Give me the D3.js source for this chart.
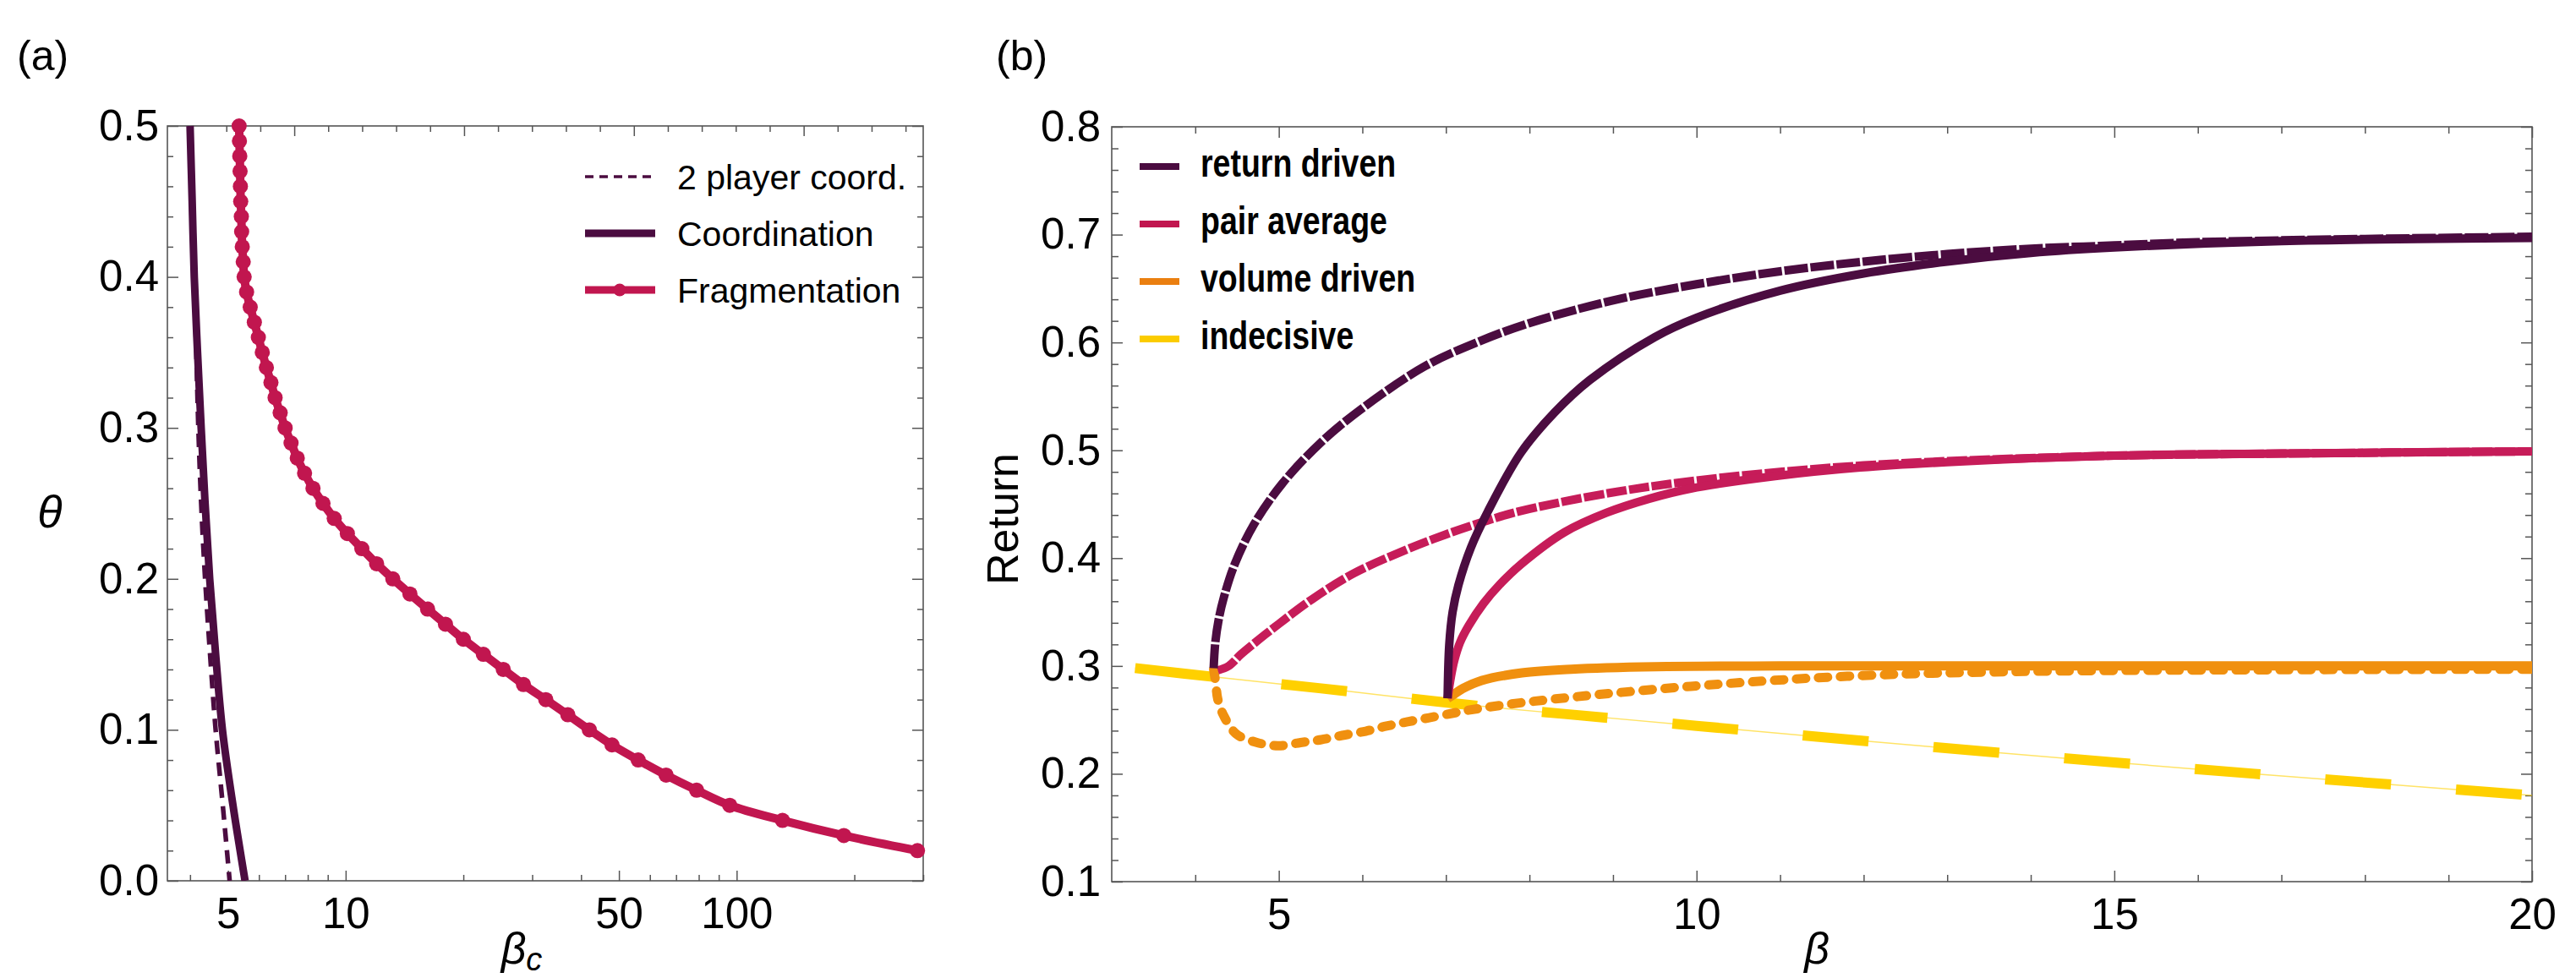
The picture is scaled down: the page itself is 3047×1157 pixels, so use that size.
<!DOCTYPE html>
<html>
<head>
<meta charset="utf-8">
<script src="https://cdn.jsdelivr.net/npm/d3@7"></script>
<style>
  body { margin: 0; background: #fff; }
  svg { display: block; }
</style>
</head>
<body>
<script>
// ---------- panel (a): critical beta vs theta ----------
const thetaLevels   = [0.5, 0.45, 0.4, 0.35, 0.3, 0.25, 0.2, 0.15, 0.1, 0.05, 0.0];
const coordBeta     = [4.0, 4.05, 4.1, 4.18, 4.27, 4.37, 4.49, 4.65, 4.84, 5.15, 5.53];
const twoPlayerBeta = [4.0, 4.05, 4.1, 4.15, 4.2, 4.27, 4.37, 4.5, 4.65, 4.85, 5.05];

const fragTheta = [0.50, 0.49, 0.48, 0.47, 0.46, 0.45, 0.44, 0.43, 0.42, 0.41,
                   0.40, 0.39, 0.38, 0.37, 0.36, 0.35, 0.34, 0.33, 0.32, 0.31,
                   0.30, 0.29, 0.28, 0.27, 0.26, 0.25, 0.24, 0.23, 0.22, 0.21,
                   0.20, 0.19, 0.18, 0.17, 0.16, 0.15, 0.14, 0.13, 0.12, 0.11,
                   0.10, 0.09, 0.08, 0.07, 0.06, 0.05, 0.04, 0.03, 0.02];
const fragBeta  = [5.34, 5.35, 5.36, 5.37, 5.38, 5.39, 5.41, 5.42, 5.44, 5.47,
                   5.50, 5.58, 5.70, 5.84, 5.98, 6.12, 6.27, 6.44, 6.60, 6.80,
                   7.00, 7.25, 7.52, 7.85, 8.25, 8.75, 9.35, 10.1, 11.0, 12.0,
                   13.2, 14.6, 16.2, 18.0, 20.0, 22.5, 25.3, 28.5, 32.5, 37.0,
                   42.0, 48.0, 56.0, 66.0, 79.0, 96.0, 131, 188, 290];

const aLegend = ["2 player coord.", "Coordination", "Fragmentation"];
const aTicksX = [5, 10, 50, 100];
const aMinorX = [4, 6, 7, 8, 9, 20, 30, 40, 60, 70, 80, 90, 200, 300];
const aTicksY = [0, 0.1, 0.2, 0.3, 0.4, 0.5];
const aTopMajor = [2, 3, 4, 5];   // top frame ticks are in ln(beta)

// ---------- panel (b): return vs beta ----------
const returnDashBeta = [4.22, 4.24, 4.28, 4.34, 4.47, 4.70, 5.04, 5.5, 6.0, 6.75, 7.4, 8.0, 9.0, 10.0, 11.0, 12.0, 13.0, 14.0, 15.0, 16.0, 18.0, 20.0];
const returnDashR    = [0.298, 0.322, 0.343, 0.363, 0.394, 0.431, 0.469, 0.507, 0.539, 0.578, 0.601, 0.618, 0.639, 0.654, 0.666, 0.675, 0.682, 0.687, 0.690, 0.693, 0.696, 0.698];
const returnSolidBeta = [7.02, 7.04, 7.08, 7.15, 7.3, 7.5, 7.9, 8.3, 8.72, 9.5, 10.0, 11.0, 12.0, 13.0, 14.0, 15.0, 17.0, 20.0];
const returnSolidR    = [0.270, 0.320, 0.350, 0.375, 0.410, 0.443, 0.498, 0.535, 0.565, 0.605, 0.623, 0.648, 0.664, 0.675, 0.683, 0.688, 0.694, 0.697];

const pairDashBeta = [4.27, 4.40, 4.55, 4.77, 5.0, 5.4, 5.9, 6.5, 7.0, 7.5, 7.91, 9.0, 10.0, 11.0, 12.0, 13.0, 15.0, 17.0, 20.0];
const pairDashR    = [0.296, 0.300, 0.311, 0.325, 0.339, 0.362, 0.386, 0.407, 0.422, 0.435, 0.444, 0.461, 0.472, 0.480, 0.486, 0.490, 0.495, 0.497, 0.499];
const pairSolidBeta = [7.02, 7.06, 7.1, 7.17, 7.27, 7.45, 7.65, 7.91, 8.42, 8.92, 9.43, 9.93, 10.94, 11.96, 13.0, 15.0, 17.0, 20.0];
const pairSolidR    = [0.270, 0.290, 0.305, 0.322, 0.337, 0.358, 0.376, 0.395, 0.424, 0.442, 0.455, 0.4645, 0.476, 0.484, 0.489, 0.495, 0.497, 0.499];

const volumeDashBeta = [4.22, 4.245, 4.27, 4.34, 4.49, 4.74, 4.99, 5.26, 5.51, 5.76, 6.04, 6.29, 6.54, 6.80, 7.07, 7.27, 7.91, 9.93, 11.96, 14.0, 17.0, 20.0];
const volumeDashR    = [0.297, 0.284, 0.269, 0.254, 0.237, 0.229, 0.226, 0.229, 0.2317, 0.2356, 0.2395, 0.2443, 0.2482, 0.252, 0.256, 0.259, 0.266, 0.2811, 0.291, 0.295, 0.2965, 0.297];
const volumeSolidBeta = [7.02, 7.1, 7.2, 7.43, 7.91, 8.5, 9.5, 11.0, 13.0, 20.0];
const volumeSolidR    = [0.270, 0.274, 0.279, 0.2866, 0.2936, 0.297, 0.2993, 0.300, 0.300, 0.300];

const indecisiveBeta = [3.28, 4.27, 5.04, 5.83, 6.61, 7.40, 8.42, 10.0, 12.0, 15.0, 17.5, 20.0];
const indecisiveR    = [0.298, 0.2895, 0.283, 0.2765, 0.2695, 0.2628, 0.2555, 0.2445, 0.2305, 0.2105, 0.195, 0.180];

const bLegend = ["return driven", "pair average", "volume driven", "indecisive"];
const bTicksX = [5, 10, 15, 20];
const bTicksY = [0.1, 0.2, 0.3, 0.4, 0.5, 0.6, 0.7, 0.8];

// ---------- look ----------
const W = 3047, H = 1157;
const boxA = { left: 198, right: 1092, top: 149, bottom: 1042 };
const boxB = { left: 1315, right: 2995, top: 150, bottom: 1043 };
const frameColor = "#555";
const font = "'Liberation Sans', Arial, Helvetica, sans-serif";
const cPurple = "#4b0c40", cCrimson = "#c1164f", cPink = "#c61c59",
      cOrange = "#f0900f", cYellow = "#ffd000";

const svg = d3.select("body").append("svg")
    .attr("width", W)
    .attr("height", H);

const xA = d3.scaleLog().domain([3.5, 300]).range([boxA.left, boxA.right]);
const xAln = d3.scaleLinear().domain([Math.log(3.5), Math.log(300)]).range([boxA.left, boxA.right]);
const yA = d3.scaleLinear().domain([0, 0.5]).range([boxA.bottom, boxA.top]);
const xB = d3.scaleLinear().domain([3, 20]).range([boxB.left, boxB.right]);
const yB = d3.scaleLinear().domain([0.1, 0.8]).range([boxB.bottom, boxB.top]);

function frameAxis(axis, tx, ty, withText) {
    const g = svg.append("g")
        .attr("transform", "translate(" + tx + "," + ty + ")")
        .call(axis);
    g.select(".domain").remove();
    g.selectAll(".tick line").attr("stroke", frameColor).attr("stroke-width", 1.5);
    if (withText) {
        g.attr("font-family", font).attr("font-size", 51);
        g.selectAll("text").attr("fill", "#000");
    } else {
        g.selectAll("text").remove();
    }
    return g;
}

function minorRange(lo, hi, step, skip) {
    return d3.range(lo, hi + step / 2, step)
        .map(v => +v.toFixed(4))
        .filter(v => !skip.some(s => Math.abs(s - v) < 1e-6));
}

// ---------- panel (a) axes ----------
frameAxis(d3.axisBottom(xA).tickValues(aTicksX).tickFormat(d3.format("d"))
    .tickSizeInner(-12).tickSizeOuter(0).tickPadding(20), 0, boxA.bottom, true);
frameAxis(d3.axisBottom(xA).tickValues(aMinorX).tickFormat("")
    .tickSizeInner(-7).tickSizeOuter(0), 0, boxA.bottom, false);
frameAxis(d3.axisTop(xAln).tickValues(aTopMajor).tickSizeInner(-12).tickSizeOuter(0),
    0, boxA.top, false);
frameAxis(d3.axisTop(xAln).tickValues(minorRange(1.4, 5.6, 0.2, aTopMajor))
    .tickSizeInner(-7).tickSizeOuter(0), 0, boxA.top, false);
frameAxis(d3.axisLeft(yA).tickValues(aTicksY).tickFormat(d3.format(".1f"))
    .tickSizeInner(-13).tickSizeOuter(0).tickPadding(10), boxA.left, 0, true);
frameAxis(d3.axisLeft(yA).tickValues(minorRange(0.02, 0.48, 0.02, aTicksY))
    .tickSizeInner(-7).tickSizeOuter(0), boxA.left, 0, false);
frameAxis(d3.axisRight(yA).tickValues(aTicksY).tickSizeInner(-13).tickSizeOuter(0),
    boxA.right, 0, false);
frameAxis(d3.axisRight(yA).tickValues(minorRange(0.02, 0.48, 0.02, aTicksY))
    .tickSizeInner(-7).tickSizeOuter(0), boxA.right, 0, false);

svg.append("rect")
    .attr("x", boxA.left).attr("y", boxA.top)
    .attr("width", boxA.right - boxA.left).attr("height", boxA.bottom - boxA.top)
    .attr("fill", "none").attr("stroke", frameColor).attr("stroke-width", 1.6);

// ---------- panel (b) axes ----------
frameAxis(d3.axisBottom(xB).tickValues(bTicksX).tickFormat(d3.format("d"))
    .tickSizeInner(-13).tickSizeOuter(0).tickPadding(20), 0, boxB.bottom, true);
frameAxis(d3.axisBottom(xB).tickValues(minorRange(4, 19, 1, bTicksX)).tickFormat("")
    .tickSizeInner(-8).tickSizeOuter(0), 0, boxB.bottom, false);
frameAxis(d3.axisTop(xB).tickValues(bTicksX).tickSizeInner(-13).tickSizeOuter(0),
    0, boxB.top, false);
frameAxis(d3.axisTop(xB).tickValues(minorRange(4, 19, 1, bTicksX))
    .tickSizeInner(-8).tickSizeOuter(0), 0, boxB.top, false);
frameAxis(d3.axisLeft(yB).tickValues(bTicksY).tickFormat(d3.format(".1f"))
    .tickSizeInner(-13).tickSizeOuter(0).tickPadding(13), boxB.left, 0, true);
frameAxis(d3.axisLeft(yB).tickValues(minorRange(0.12, 0.78, 0.02, bTicksY))
    .tickSizeInner(-8).tickSizeOuter(0), boxB.left, 0, false);
frameAxis(d3.axisRight(yB).tickValues(bTicksY).tickSizeInner(-13).tickSizeOuter(0),
    boxB.right, 0, false);
frameAxis(d3.axisRight(yB).tickValues(minorRange(0.12, 0.78, 0.02, bTicksY))
    .tickSizeInner(-8).tickSizeOuter(0), boxB.right, 0, false);

svg.append("rect")
    .attr("x", boxB.left).attr("y", boxB.top)
    .attr("width", boxB.right - boxB.left).attr("height", boxB.bottom - boxB.top)
    .attr("fill", "none").attr("stroke", frameColor).attr("stroke-width", 1.6);

// ---------- clip paths ----------
const defs = svg.append("defs");
defs.append("clipPath").attr("id", "clipA").append("rect")
    .attr("x", boxA.left).attr("y", boxA.top - 20)
    .attr("width", boxA.right - boxA.left + 6).attr("height", boxA.bottom - boxA.top + 20);
defs.append("clipPath").attr("id", "clipB").append("rect")
    .attr("x", boxB.left).attr("y", boxB.top)
    .attr("width", boxB.right - boxB.left).attr("height", boxB.bottom - boxB.top);

// ---------- panel (a) curves ----------
const lineA = d3.line()
    .x(d => xA(d[0]))
    .y(d => yA(d[1]))
    .curve(d3.curveCatmullRom.alpha(0.5));

const plotA = svg.append("g").attr("clip-path", "url(#clipA)");

plotA.append("path")
    .datum(d3.zip(twoPlayerBeta, thetaLevels))
    .attr("d", lineA)
    .attr("fill", "none").attr("stroke", cPurple)
    .attr("stroke-width", 5.5).attr("stroke-dasharray", "16,10");

plotA.append("path")
    .datum(d3.zip(coordBeta, thetaLevels))
    .attr("d", lineA)
    .attr("fill", "none").attr("stroke", cPurple)
    .attr("stroke-width", 9);

const fragPts = d3.zip(fragBeta, fragTheta);
plotA.append("path")
    .datum(fragPts)
    .attr("d", lineA)
    .attr("fill", "none").attr("stroke", cCrimson)
    .attr("stroke-width", 10).attr("stroke-linecap", "square");

svg.append("g").selectAll("circle")
    .data(fragPts)
    .enter()
    .append("circle")
    .attr("cx", d => xA(d[0]))
    .attr("cy", d => yA(d[1]))
    .attr("r", 9)
    .attr("fill", cCrimson);

// legend (a)
const legA = svg.append("g").attr("font-family", font).attr("font-size", 41);
aLegend.forEach(function(name, i) {
    const y = 209 + i * 67;
    const l = legA.append("line")
        .attr("x1", 692).attr("x2", 775).attr("y1", y).attr("y2", y)
        .attr("stroke", i === 2 ? cCrimson : cPurple);
    if (i === 0) l.attr("stroke-width", 3.5).attr("stroke-dasharray", "10,7");
    else l.attr("stroke-width", 9);
    if (i === 2) legA.append("circle").attr("cx", 733).attr("cy", y).attr("r", 7.5).attr("fill", cCrimson);
    legA.append("text")
        .attr("x", 801).attr("y", y).attr("dy", "0.36em")
        .text(name);
});

// ---------- panel (b) curves ----------
const lineB = d3.line()
    .x(d => xB(d[0]))
    .y(d => yB(d[1]))
    .curve(d3.curveCatmullRom.alpha(0.5));

const plotB = svg.append("g").attr("clip-path", "url(#clipB)");

function curveB(bs, rs, color, width, dash, cap) {
    const p = plotB.append("path")
        .datum(d3.zip(bs, rs))
        .attr("d", lineB)
        .attr("fill", "none")
        .attr("stroke", color)
        .attr("stroke-width", width)
        .attr("stroke-linecap", cap || "butt");
    if (dash) p.attr("stroke-dasharray", dash);
    return p;
}

// indecisive: thin guide plus long dashes
curveB(indecisiveBeta, indecisiveR, cYellow, 1.5, null).attr("stroke-opacity", 0.6);
curveB(indecisiveBeta, indecisiveR, cYellow, 12, "97,77" + ",78,77".repeat(14));

curveB(volumeDashBeta, volumeDashR, cOrange, 11, "11,15", "round");
curveB(volumeSolidBeta, volumeSolidR, cOrange, 11, null);

curveB(pairDashBeta, pairDashR, cPink, 10, "24,3");
curveB(pairSolidBeta, pairSolidR, cPink, 10, null);

curveB(returnDashBeta, returnDashR, cPurple, 10, "28,3");
curveB(returnSolidBeta, returnSolidR, cPurple, 10, null);

// legend (b): bold, horizontally condensed text
const legColors = [cPurple, cCrimson, "#ea7f10", "#fbcc00"];
const legB = svg.append("g")
    .attr("font-family", font)
    .attr("font-weight", "bold")
    .attr("font-size", 46);
bLegend.forEach(function(name, i) {
    const y = 197 + i * 68;
    legB.append("line")
        .attr("x1", 1348).attr("x2", 1395).attr("y1", y).attr("y2", y)
        .attr("stroke", legColors[i]).attr("stroke-width", 8);
    legB.append("text")
        .attr("transform", "translate(1420," + (y + 12) + ") scale(0.815,1)")
        .text(name);
});

// ---------- labels ----------
const labels = svg.append("g").attr("font-family", font).attr("fill", "#000");

labels.append("text").attr("x", 20).attr("y", 83).attr("font-size", 50).text("(a)");
labels.append("text").attr("x", 1178).attr("y", 83).attr("font-size", 50).text("(b)");

labels.append("text")
    .attr("x", 59).attr("y", 624)
    .attr("font-size", 54).attr("font-style", "italic")
    .attr("text-anchor", "middle")
    .text("θ");

labels.append("text")
    .attr("transform", "translate(1204,614) rotate(-90)")
    .attr("font-size", 52)
    .attr("text-anchor", "middle")
    .text("Return");

const betaC = labels.append("text")
    .attr("x", 617).attr("y", 1140)
    .attr("font-size", 52).attr("font-style", "italic")
    .attr("text-anchor", "middle");
betaC.append("tspan").text("β");
betaC.append("tspan").attr("font-size", 38).attr("dy", 8).text("c");

labels.append("text")
    .attr("x", 2149).attr("y", 1140)
    .attr("font-size", 52).attr("font-style", "italic")
    .attr("text-anchor", "middle")
    .text("β");
</script>
</body>
</html>
